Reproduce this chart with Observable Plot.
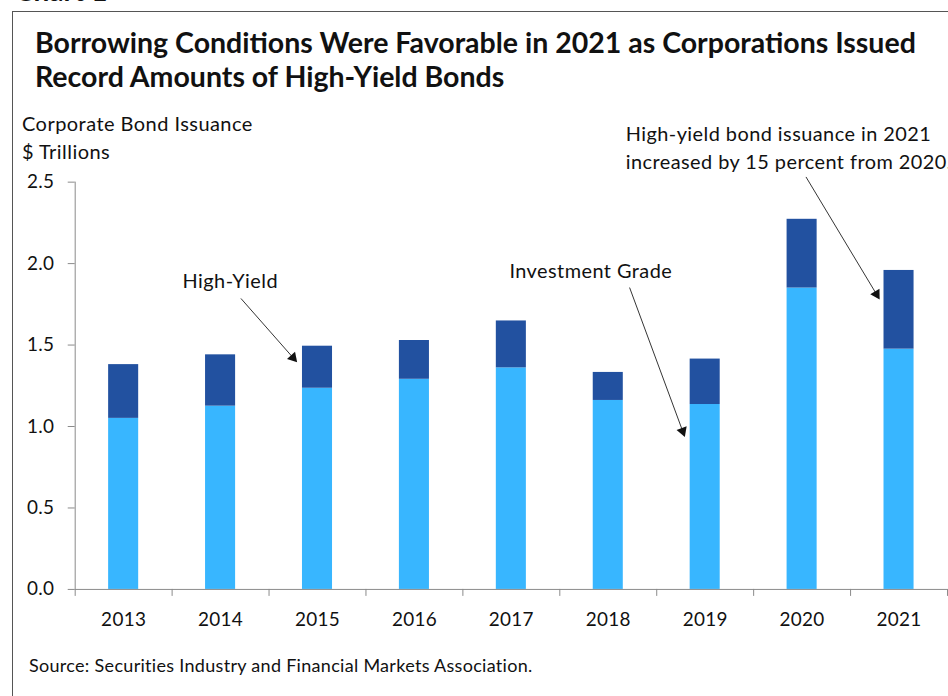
<!DOCTYPE html>
<html><head><meta charset="utf-8">
<script src="https://cdn.jsdelivr.net/npm/d3@7"></script>
<script src="https://cdn.jsdelivr.net/npm/@observablehq/plot@0.6"></script>
<style>
html,body{margin:0;padding:0;width:948px;height:696px;overflow:hidden;background:#fff;font-family:Lato,sans-serif;color:#111;}
#frame{position:absolute;left:12px;top:11px;width:1000px;height:1000px;border-left:1.5px solid #555;border-top:1.5px solid #555;}
#chartno{position:absolute;left:15px;top:-25px;font:700 28px Lato;line-height:30px;}
#title{position:absolute;left:35px;top:25px;font:700 28.5px Lato;line-height:34px;white-space:nowrap;}
#ylab{position:absolute;left:22px;top:109px;font:20px Lato;letter-spacing:0.45px;line-height:28px;}
#chart{position:absolute;left:0;top:100px;}
#source{position:absolute;left:29px;top:654px;font:18px Lato;letter-spacing:0.3px;}
</style></head><body>
<div id="chartno">Chart 1</div>
<div id="frame"></div>
<div id="title">Borrowing Conditions Were Favorable in 2021 as Corporations Issued<br>Record Amounts of High-Yield Bonds</div>
<div id="ylab">Corporate Bond Issuance<br>$ Trillions</div>
<div id="chart"></div>
<div id="source">Source: Securities Industry and Financial Markets Association.</div>
<script>
const years = [2013, 2014, 2015, 2016, 2017, 2018, 2019, 2020, 2021];
const investmentGrade = [1.05, 1.125, 1.235, 1.29, 1.36, 1.16, 1.135, 1.85, 1.475];
const highYield = [0.33, 0.315, 0.258, 0.238, 0.288, 0.172, 0.279, 0.422, 0.483];
const yTicks = [0, 0.5, 1.0, 1.5, 2.0, 2.5];
const seriesNames = ["Investment Grade", "High-Yield"];
const seriesColors = ["#38b6ff", "#2251a0"];

const labelsMiddle = [
  {text: "High-Yield", x: 2014.1, y: 1.89},
  {text: "Investment Grade", x: 2017.82, y: 1.951}
];
const labelsStart = [
  {text: "High-yield bond issuance in 2021\nincreased by 15 percent from 2020.", x: 2018.18, y: 2.72}
];
const arrows = [
  {x1: 2014.21, y1: 1.786, x2: 2014.79, y2: 1.394},
  {x1: 2018.22, y1: 1.853, x2: 2018.79, y2: 0.936},
  {x1: 2020.04, y1: 2.532, x2: 2020.80, y2: 1.78}
];

const table = years.flatMap((yr, i) => [
  {year: yr, series: seriesNames[0], y1: 0, y2: investmentGrade[i]},
  {year: yr, series: seriesNames[1], y1: investmentGrade[i], y2: investmentGrade[i] + highYield[i]}
]);
const boundaries = years.map(y => y - 0.5).concat([years[years.length - 1] + 0.5]);
const headR = 4;

function build(extra) {
  return Plot.plot({
    width: 952, height: 540,
    marginTop: 82, marginBottom: 49, marginLeft: 75, marginRight: 1,
    style: {fontFamily: "Lato, sans-serif", fontSize: "19px", letterSpacing: "0.3px", background: "transparent", overflow: "visible"},
    x: {domain: [boundaries[0], boundaries[boundaries.length - 1]], axis: null},
    y: {domain: [0, 2.5], axis: null},
    color: {domain: seriesNames, range: seriesColors},
    marks: [
      Plot.rect(table, {x1: d => d.year - 0.155, x2: d => d.year + 0.155, y1: "y1", y2: "y2", fill: "series"}),
      Plot.ruleY([0], {stroke: "#8a8a8a"}),
      Plot.ruleX([boundaries[0]], {y1: 0, y2: 2.5, stroke: "#8a8a8a"}),
      Plot.axisY(yTicks, {tickSize: 7, tickPadding: 14, tickFormat: d3.format(".1f"), stroke: "#8a8a8a", color: "#111", label: null}),
      Plot.axisX(boundaries, {tickSize: 7, tickFormat: () => "", stroke: "#8a8a8a", label: null}),
      Plot.axisX(years, {tickSize: 0, tickPadding: 23, tickFormat: d3.format("d"), color: "#111", label: null}),
      Plot.text(labelsMiddle, {x: "x", y: "y", text: "text", textAnchor: "middle", fill: "#111", fontSize: 20}),
      Plot.text(labelsStart, {x: "x", y: "y", text: "text", textAnchor: "start", lineHeight: 1.4, fill: "#111", fontSize: 20}),
      ...extra
    ]
  });
}

const probe = build([]);
const sx = probe.scale("x"), sy = probe.scale("y");
const heads = arrows.map(a => {
  const px1 = sx.apply(a.x1), py1 = sy.apply(a.y1), px2 = sx.apply(a.x2), py2 = sy.apply(a.y2);
  const dx = px2 - px1, dy = py2 - py1, L = Math.hypot(dx, dy);
  const f = (1.555 * headR) / L;
  return {
    x: a.x2 - f * (a.x2 - a.x1), y: a.y2 - f * (a.y2 - a.y1),
    angle: Math.atan2(dx, -dy) * 180 / Math.PI,
    x1: a.x1, y1: a.y1
  };
});

const chart = build([
  Plot.link(heads, {x1: "x1", y1: "y1", x2: "x", y2: "y", stroke: "#333", strokeWidth: 1}),
  Plot.dot(heads, {x: "x", y: "y", symbol: "triangle", r: headR, fill: "#111", stroke: null, rotate: "angle"})
]);
chart.querySelectorAll("g[aria-label='text'] text").forEach(t => t.setAttribute("letter-spacing", "0.45px"));
document.getElementById("chart").appendChild(chart);
</script>
</body></html>
